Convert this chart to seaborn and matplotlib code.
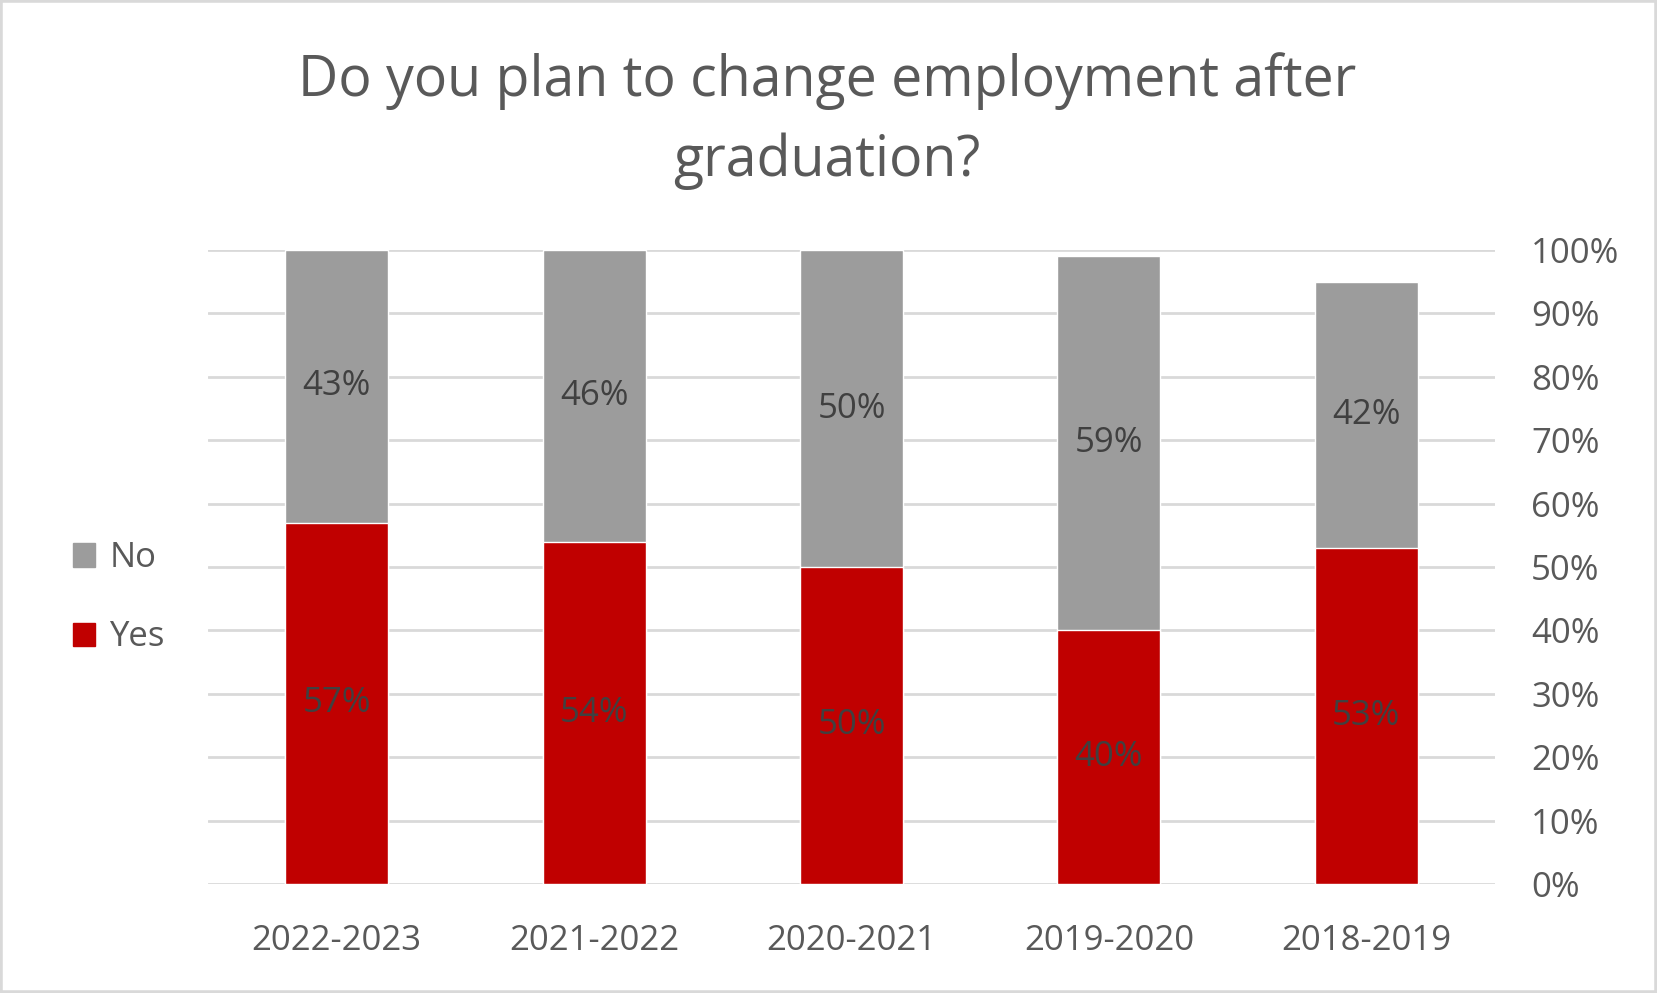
import pandas as pd
import matplotlib.pyplot as plt
import seaborn as sns
from matplotlib.patches import Patch, Rectangle

# data
years = ["2018-2019", "2019-2020", "2020-2021", "2021-2022", "2022-2023"]
yes_pct = [53, 40, 50, 54, 57]
no_pct = [42, 59, 50, 46, 43]
y_ticks = [0, 10, 20, 30, 40, 50, 60, 70, 80, 90, 100]

RED = "#C00000"
GRAY = "#9C9C9C"
TXT = "#595959"


def main():
    df = pd.DataFrame({"year": years, "Yes": yes_pct, "No": no_pct})
    df["total"] = df["Yes"] + df["No"]
    order = years[::-1]  # reference runs newest on the left
    df = df.set_index("year").loc[order].reset_index()

    sns.set_theme(style="white")
    plt.rcParams["font.family"] = ["Open Sans", "DejaVu Sans"]

    fig = plt.figure(figsize=(16.57, 9.93), dpi=100)
    ax = fig.add_axes([0.1255, 0.1098, 0.7768, 0.6384])

    sns.barplot(data=df, x="year", y="total", order=order, color=GRAY,
                width=0.4, saturation=1, ax=ax)
    sns.barplot(data=df, x="year", y="Yes", order=order, color=RED,
                width=0.4, saturation=1, ax=ax)

    for i, row in df.iterrows():
        ax.text(i, row["Yes"] / 2, f"{row['Yes']}%", ha="center", va="center",
                fontsize=25, color="#404040")
        ax.text(i, row["Yes"] + row["No"] / 2, f"{row['No']}%", ha="center",
                va="center", fontsize=25, color="#404040")

    ax.set_ylim(0, 100)
    ax.set_xlim(-0.5, len(order) - 0.5)
    ax.set_yticks(y_ticks)
    ax.set_yticklabels([f"{t}%" for t in y_ticks])
    ax.yaxis.tick_right()
    ax.grid(axis="y", color="#D9D9D9", linewidth=2)
    ax.set_axisbelow(True)
    for s in ax.spines.values():
        s.set_visible(False)
    ax.tick_params(axis="y", length=0, pad=26, labelsize=25, labelcolor=TXT)
    ax.tick_params(axis="x", length=0, pad=29, labelsize=25, labelcolor=TXT)
    ax.set_xlabel("")
    ax.set_ylabel("")

    fig.text(0.499, 0.878, "Do you plan to change employment after\ngraduation?",
             ha="center", va="center", fontsize=40, color=TXT, linespacing=1.53)

    handles = [Patch(color=GRAY, label="No"), Patch(color=RED, label="Yes")]
    fig.legend(handles=handles, loc="center left", bbox_to_anchor=(0.025, 0.398),
               frameon=False, fontsize=25, labelcolor=TXT, handlelength=0.65,
               handleheight=0.65, handletextpad=0.4, labelspacing=1.3)

    fig.patches.append(Rectangle((0, 0), 1, 1, transform=fig.transFigure,
                                 fill=False, edgecolor="#D9D9D9", linewidth=4))

    fig.savefig("out.png", dpi=100)
    plt.close(fig)


if __name__ == "__main__":
    main()
